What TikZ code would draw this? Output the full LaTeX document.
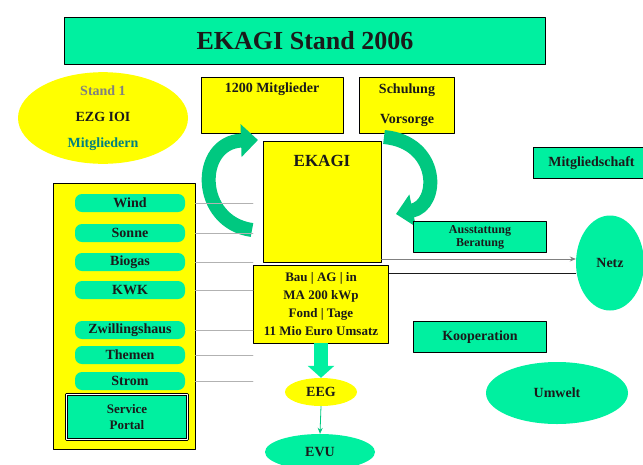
\documentclass[tikz,border=0pt]{standalone}
\usepackage{fontspec}
\setmainfont{Liberation Serif}
\usepackage{tikz}
\usetikzlibrary{arrows.meta,positioning,shapes.geometric,calc}
\definecolor{mint}{HTML}{00F0A0}
\definecolor{darkmint}{HTML}{00C880}
\definecolor{lemon}{HTML}{FFFF00}
\definecolor{ink}{HTML}{1A1A1A}
\newcommand{\dgfont}{\fontsize{14}{16}\selectfont\bfseries}
\tikzset{
    every picture/.style={line cap=round,line join=round},
    greenbox/.style={draw=black,fill=mint,line width=0.9pt,inner sep=2pt,
      text=ink,font=\dgfont,align=center},
    yellowbox/.style={draw=black,fill=lemon,line width=0.9pt,inner sep=2pt,
      text=ink,font=\dgfont,align=center},
    listbar/.style={fill=mint,rounded corners=7pt,minimum width=110pt,
      minimum height=18pt,inner sep=1pt,text=ink,font=\dgfont},
    blob/.style={ellipse,inner sep=0pt,text=ink,font=\dgfont,align=center},
    cyclearrow/.style={draw=darkmint,line width=14pt,line cap=butt,
      -{Triangle[length=17pt,width=32pt]}},
    thinlink/.style={draw=gray!60,line width=0.6pt},
    flowarrow/.style={-{Stealth[length=6pt,width=5pt]},draw=ink,line width=0.8pt}
}
\begin{document}
\begin{tikzpicture}[x=1pt,y=-1pt]
  \useasboundingbox[fill=white] (0,0) rectangle (643,464);

  % title bar
  \node[greenbox,minimum width=481pt,minimum height=47pt,
    font=\fontsize{26}{28}\selectfont\bfseries] (title) at (305,41) {EKAGI Stand 2006};

  % upper row
  \node[blob,fill=lemon,minimum width=170pt,minimum height=82pt,
    font=\fontsize{14}{26}\selectfont\bfseries] (founding) at (103,118)
    {\textcolor{gray}{Stand 1}\\EZG IOI\\\textcolor{teal}{Mitgliedern}};
  \node[yellowbox,minimum width=142pt,minimum height=56pt] (members) at (272,105) {};
  \node[font=\dgfont,text=ink,below=3pt of members.north] {1200 Mitglieder};
  \node[yellowbox,minimum width=95pt,minimum height=56pt,
    font=\fontsize{14}{30}\selectfont\bfseries] (training) at (407,105) {Schulung\\Vorsorge};
  \node[greenbox,minimum width=116pt,minimum height=31pt,anchor=west] (membership)
    at (533,163) {Mitgliedschaft};

  % centre
  \node[yellowbox,minimum width=118pt,minimum height=121pt] (core) at (322,202) {};
  \node[font=\fontsize{17}{19}\selectfont\bfseries,text=ink,below=11pt of core.north] {EKAGI};
  \node[yellowbox,minimum width=135pt,minimum height=78pt,
    font=\fontsize{13}{18}\selectfont\bfseries] (low) at (321,304)
    {Bau | AG | in\\MA 200 kWp\\Fond | Tage\\11 Mio Euro Umsatz};

  % circulation arrows
  \draw[cyclearrow] (252,230) .. controls (196,222) and (196,142) .. (258,140);
  \draw[cyclearrow] (384,137) .. controls (440,142) and (440,205) .. (396,214);

  % list of topics
  \node[yellowbox,minimum width=142pt,minimum height=266pt] (topics) at (124,316) {};
  \foreach \y/\txt [count=\i] in {203/Wind,233/Sonne,262/Biogas,290/KWK,
      330/Zwillingshaus,355/Themen,381/Strom}
    \node[listbar] (bar\i) at (130,\y) {\txt};
  \node[greenbox,double,double distance=1.2pt,minimum width=121pt,minimum height=45pt,
    font=\fontsize{13}{16}\selectfont\bfseries] (service) at (127,417) {Service\\Portal};
  \foreach \i in {1,...,7}
    \draw[thinlink] (bar\i.east -| topics.east) -- (bar\i.east -| low.west);

  % right side
  \node[greenbox,minimum width=133pt,minimum height=31pt,
    font=\fontsize{12}{13}\selectfont\bfseries] (advice) at (480,237) {Ausstattung\\Beratung};
  \node[greenbox,minimum width=133pt,minimum height=31pt] (coop) at (480,337) {Kooperation};
  \node[blob,fill=mint,minimum width=68pt,minimum height=95pt] (grid) at (610,263) {Netz};
  \node[blob,fill=mint,minimum width=142pt,minimum height=62pt] (environment) at (557,393) {Umwelt};
  \draw[flowarrow,draw=gray] (core.east |- 0,259) -- (grid.west |- 0,259);
  \draw[ink,line width=0.8pt] (low.east |- 0,273) -- (grid.west |- 0,273);

  % below the centre
  \node[blob,fill=lemon,minimum width=72pt,minimum height=28pt] (eeg) at (321,392) {EEG};
  \node[blob,fill=mint,minimum width=110pt,minimum height=36pt] (utility) at (320,452) {EVU};
  \draw[draw=mint,line width=14pt,line cap=butt,-{Triangle[length=12pt,width=26pt]}]
    (low.south) -- (eeg.north);
  \draw[flowarrow,draw=darkmint] (eeg.south) -- (utility.north);
\end{tikzpicture}
\end{document}
